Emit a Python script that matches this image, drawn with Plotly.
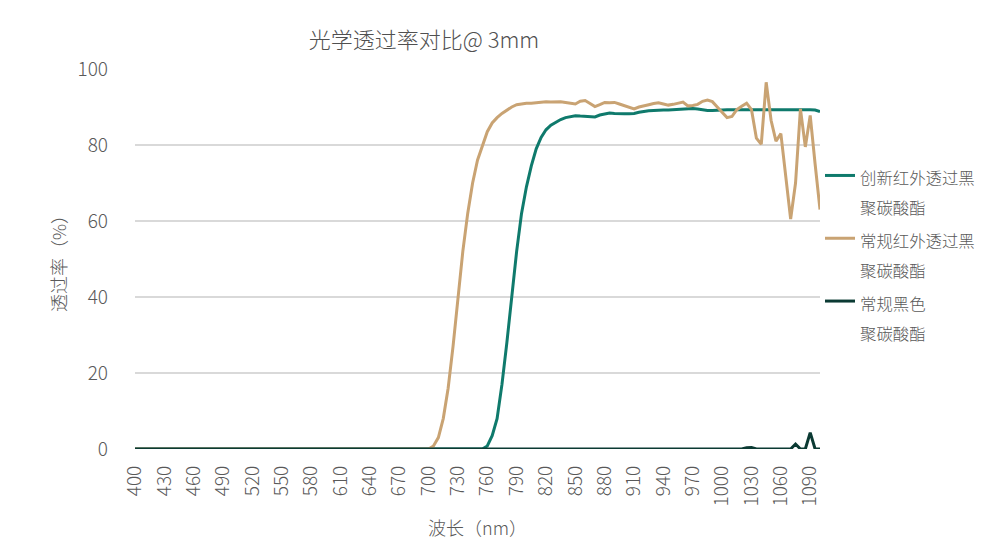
import plotly.graph_objects as go

# 波长（nm），每 5 nm 一个点
wavelength = list(range(400, 1101, 5))

# 创新红外透过黑聚碳酸酯：755 nm 之前为 0
innov_ir = [0] * 71 + [
    0, 0.8, 3.5, 8, 17, 28, 40, 52, 62, 69,
    74.5, 79, 82, 84, 85.2, 86, 86.7, 87.2, 87.5, 87.7,
    87.6, 87.5, 87.5, 87.4, 87.9, 88.2, 88.4, 88.3, 88.2, 88.2,
    88.2, 88.3, 88.6, 88.9, 89.0, 89.1, 89.2, 89.2, 89.2, 89.3,
    89.4, 89.5, 89.5, 89.6, 89.5, 89.3, 89.1, 89.1, 89.2, 89.2,
    89.3, 89.3, 89.3, 89.4, 89.4, 89.4, 89.4, 89.4, 89.4, 89.4,
    89.4, 89.4, 89.4, 89.4, 89.4, 89.4, 89.4, 89.3, 89.2, 88.8,
]

# 常规红外透过黑聚碳酸酯：700 nm 之前为 0
normal_ir = [0] * 60 + [
    0, 0.8, 3, 8, 16, 27, 40, 52, 62, 70,
    76, 80, 83.5, 85.8, 87.2, 88.3, 89.2, 90, 90.6, 90.9,
    91.0, 91.0, 91.1, 91.2, 91.4, 91.3, 91.4, 91.4, 91.2, 91.0,
    90.8, 91.5, 91.7, 90.9, 90.1, 90.6, 91.2, 91.1, 91.2, 90.8,
    90.3, 89.9, 89.5, 90.0, 90.4, 90.6, 90.9, 91.1, 90.8, 90.5,
    90.7, 91.1, 91.3, 90.3, 90.4, 90.7, 91.5, 91.8, 91.4, 90.0,
    88.7, 87.2, 87.5, 89.3, 90.2, 91.0, 89.3, 81.8, 80.2, 96.5,
    86.5, 81.0, 83.0, 72.0, 60.5, 70.0, 89.5, 79.5, 87.8, 75.0,
    63.0,
]

# 常规黑色聚碳酸酯：1000 nm 之前为 0
normal_black = [0] * 120 + [
    0.1, 0.1, 0, 0.1, 0, 0.3, 0.4, 0, 0, 0,
    0, 0, 0, 0, 0, 1.3, 0, 0, 4.3, 0,
    0,
]

names = [
    ("创新红外透过黑", "聚碳酸酯"),
    ("常规红外透过黑", "聚碳酸酯"),
    ("常规黑色", "聚碳酸酯"),
]
colors = ["#0f7a6c", "#c9a373", "#0b3a33"]

fig = go.Figure()
for vals, (n1, n2), col in zip([innov_ir, normal_ir, normal_black], names, colors):
    fig.add_trace(go.Scatter(
        x=wavelength,
        y=vals,
        # 图例字号放大以拉开行距，文字本身用小一号
        name=f"<span style='font-size:16.4px'>{n1}</span><br><span style='font-size:16.4px'>{n2}</span>",
        mode="lines",
        line=dict(color=col, width=3),
    ))

# 页面 body 自带 8px 边距，整体尺寸和边距按此扣除
fig.update_layout(
    width=985,
    height=550,
    paper_bgcolor="white",
    plot_bgcolor="white",
    font=dict(family="Noto Sans CJK SC", size=16, color="#595959", weight=300),
    title=dict(
        text="光学透过率对比@ 3mm",
        x=416 / 985,
        xanchor="center",
        y=1 - 32 / 550,
        yanchor="middle",
        font=dict(size=22, color="#505050", weight=300),
    ),
    margin=dict(l=127, r=173, t=61, b=109),
    showlegend=True,
    legend=dict(
        x=1.0,
        xanchor="left",
        y=1 - (176 - 69 - 22) / 380,
        yanchor="top",
        valign="top",
        font=dict(size=23, color="#595959", weight=300),
        bgcolor="rgba(0,0,0,0)",
    ),
    xaxis=dict(
        range=[400, 1100],
        tick0=400,
        dtick=30,
        tickangle=-90,
        showgrid=False,
        zeroline=False,
        showline=False,
        ticks="",
        ticklabelstandoff=12,
        tickfont=dict(size=19, color="#595959", weight=300),
        title=dict(text="波长（nm）", standoff=16, font=dict(size=18, color="#595959", weight=300)),
    ),
    yaxis=dict(
        range=[0, 100],
        tick0=0,
        dtick=20,
        showgrid=True,
        gridcolor="#d9d9d9",
        gridwidth=1.5,
        zeroline=False,
        showline=False,
        ticks="",
        ticklabelstandoff=26,
        tickfont=dict(size=19, color="#595959", weight=300),
        title=dict(text="透过率（%）", standoff=6, font=dict(size=18, color="#595959", weight=300)),
    ),
)

fig.write_html("out.html")
